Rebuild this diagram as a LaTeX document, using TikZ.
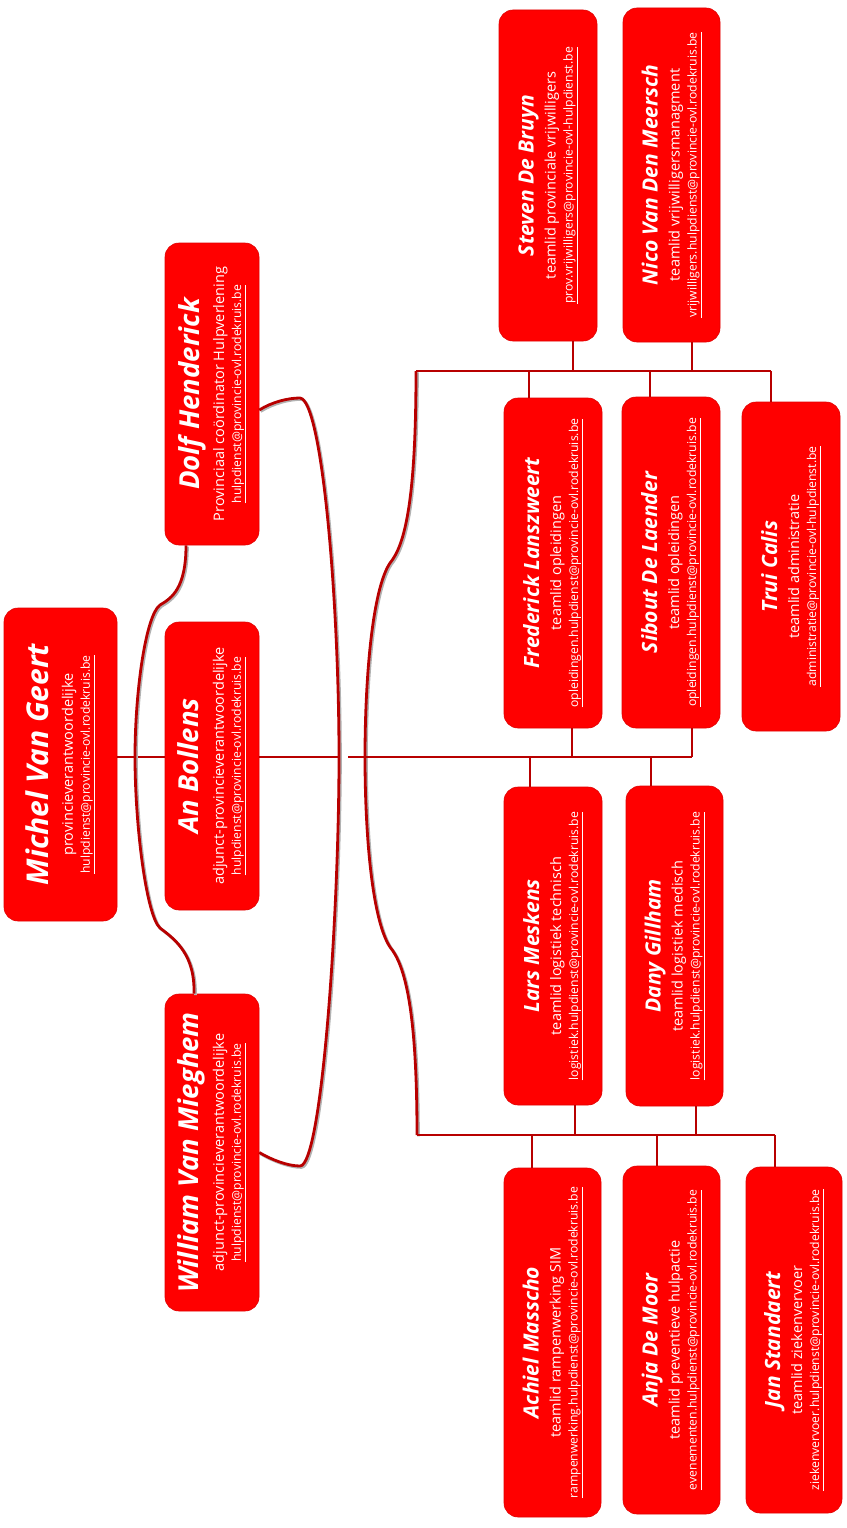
\documentclass[tikz,border=0pt]{standalone}
\usepackage{fontspec}
\setmainfont{Open Sans}
\usetikzlibrary{calc}
\definecolor{kaartrood}{HTML}{FF0000}
\definecolor{randrood}{HTML}{E00000}
\definecolor{lijnrood}{HTML}{B80000}

% naamgrootte, ruimte na naam, naam, functie, mail
\newcommand{\kaart}[5]{%
  \rotatebox{90}{\vbox{\baselineskip=17pt\lineskiplimit=-100pt\lineskip=0pt
    \halign{\hfil##\hfil\cr
      \fontsize{#1}{#1}\selectfont\bfseries\itshape #3\cr
      \noalign{\vskip #2}
      \fontsize{14.5}{17}\selectfont #4\cr
      \fontsize{12.2}{15}\selectfont\underline{#5}\cr}}}}

\begin{document}
\begin{tikzpicture}[x=1pt, y=-1pt,
    kaartbox/.style={draw=randrood, fill=kaartrood, line width=0.6pt, rounded corners=14pt, text=white, inner sep=0pt},
    link/.style={draw=lijnrood, line width=2.8pt},
    boog/.style={link, preaction={draw=black!30, line width=2.8pt, transform canvas={shift={(1.4pt,-1.4pt)}}}},
]
\useasboundingbox (0,0) rectangle (846,1528);

% leiding
\node[kaartbox, minimum width=113, minimum height=313] (michel) at (60.5,764.5) {\kaart{30}{7pt}{Michel Van Geert}{provincieverantwoordelijke}{hulpdienst@provincie-ovl.rodekruis.be}};
\node[kaartbox, minimum width=94, minimum height=302] (dolf) at (212,394) {\kaart{27.5}{8pt}{Dolf Henderick}{Provinciaal coördinator Hulpverlening}{hulpdienst@provincie-ovl.rodekruis.be}};
\node[kaartbox, minimum width=94, minimum height=288] (an) at (212,766) {\kaart{27.5}{8pt}{An Bollens}{adjunct-provincieverantwoordelijke}{hulpdienst@provincie-ovl.rodekruis.be}};
\node[kaartbox, minimum width=94, minimum height=317] (william) at (212,1152.5) {\kaart{27.5}{8pt}{William Van Mieghem}{adjunct-provincieverantwoordelijke}{hulpdienst@provincie-ovl.rodekruis.be}};

% teamleden
\node[kaartbox, minimum width=98, minimum height=331] (steven) at (548,175.5) {\kaart{21}{5pt}{Steven De Bruyn}{teamlid provinciale vrijwilligers}{prov.vrijwilligers@provincie-ovl-hulpdienst.be}};
\node[kaartbox, minimum width=97, minimum height=334] (nico) at (671.5,175) {\kaart{21}{5pt}{Nico Van Den Meersch}{teamlid vrijwilligersmanagment}{vrijwilligers.hulpdienst@provincie-ovl.rodekruis.be}};
\node[kaartbox, minimum width=98, minimum height=330] (frederick) at (553,563) {\kaart{21}{5pt}{Frederick Lanszweert}{teamlid opleidingen}{opleidingen.hulpdienst@provincie-ovl.rodekruis.be}};
\node[kaartbox, minimum width=98, minimum height=331] (sibout) at (671,562.5) {\kaart{21}{5pt}{Sibout De Laender}{teamlid opleidingen}{opleidingen.hulpdienst@provincie-ovl.rodekruis.be}};
\node[kaartbox, minimum width=98, minimum height=329] (trui) at (791,566.5) {\kaart{21}{5pt}{Trui Calis}{teamlid administratie}{administratie@provincie-ovl-hulpdienst.be}};
\node[kaartbox, minimum width=98, minimum height=318] (lars) at (553,946) {\kaart{21}{5pt}{Lars Meskens}{teamlid logistiek technisch}{logistiek.hulpdienst@provincie-ovl.rodekruis.be}};
\node[kaartbox, minimum width=97, minimum height=320] (dany) at (674.5,946) {\kaart{21}{5pt}{Dany Gillham}{teamlid logistiek medisch}{logistiek.hulpdienst@provincie-ovl.rodekruis.be}};
\node[kaartbox, minimum width=97, minimum height=349] (achiel) at (552.5,1342.5) {\kaart{21}{5pt}{Achiel Masscho}{teamlid rampenwerking SIM}{rampenwerking.hulpdienst@provincie-ovl.rodekruis.be}};
\node[kaartbox, minimum width=97, minimum height=348] (anja) at (671.5,1340) {\kaart{21}{5pt}{Anja De Moor}{teamlid preventieve hulpactie}{evenementen.hulpdienst@provincie-ovl.rodekruis.be}};
\node[kaartbox, minimum width=96, minimum height=346] (jan) at (794,1340) {\kaart{21}{5pt}{Jan Standaert}{teamlid ziekenvervoer}{ziekenvervoer.hulpdienst@provincie-ovl.rodekruis.be}};

% accolade links
\draw[link] ([yshift=7.5pt]michel.east) -- ([yshift=9pt]an.west);
\draw[boog] ([xshift=-26pt]dolf.south) .. controls (186,588) and (172,598) .. (160,605)
    .. controls (146,615) and (135,690) .. (135,757)
    .. controls (135,824) and (146,915) .. (160,928)
    .. controls (176,940) and (195,955) .. ([xshift=-18pt]william.north);

% accolade rechts
\coordinate (boogmid) at (339,757);
\draw[boog] ([yshift=-16pt]dolf.east) .. controls (272,402) and (288,398) .. (300,398)
    .. controls (322,400) and (339,600) .. (boogmid)
    .. controls (339,914) and (322,1166) .. (300,1166)
    .. controls (288,1166) and (272,1160) .. (william.east);
\draw[link] ([yshift=9pt]an.east) -- (boogmid);

% bussen naar de teams
\coordinate (bovenbus) at (416,371);
\coordinate (middenbus) at (348,757);
\coordinate (onderbus) at (417,1135);
\draw[boog] (bovenbus) .. controls (416,500) and (405,545) .. (390,563)
    .. controls (372,590) and (365,680) .. (365,757)
    .. controls (365,834) and (372,920) .. (390,947)
    .. controls (405,965) and (417,1010) .. (onderbus);
\draw[link] ([xshift=-20pt]trui.north |- bovenbus) -- (bovenbus);
\draw[link] (middenbus) -- ([xshift=21pt]sibout.south |- middenbus);
\draw[link] (onderbus) -- ([xshift=-19pt]jan.north |- onderbus);

\foreach \n/\dx in {steven/25, nico/20.5}
  \draw[link] ([xshift=\dx pt]\n.south) -- ([xshift=\dx pt]\n.south |- bovenbus);
\foreach \n/\dx in {frederick/-24, sibout/-21, trui/-20}
  \draw[link] ([xshift=\dx pt]\n.north) -- ([xshift=\dx pt]\n.north |- bovenbus);
\foreach \n/\dx in {frederick/19, sibout/21}
  \draw[link] ([xshift=\dx pt]\n.south) -- ([xshift=\dx pt]\n.south |- middenbus);
\foreach \n/\dx in {lars/-23, dany/-23.5}
  \draw[link] ([xshift=\dx pt]\n.north) -- ([xshift=\dx pt]\n.north |- middenbus);
\foreach \n/\dx in {lars/22, dany/21.5}
  \draw[link] ([xshift=\dx pt]\n.south) -- ([xshift=\dx pt]\n.south |- onderbus);
\foreach \n/\dx in {achiel/-20.5, anja/-14.5, jan/-19}
  \draw[link] ([xshift=\dx pt]\n.north) -- ([xshift=\dx pt]\n.north |- onderbus);
\end{tikzpicture}
\end{document}
